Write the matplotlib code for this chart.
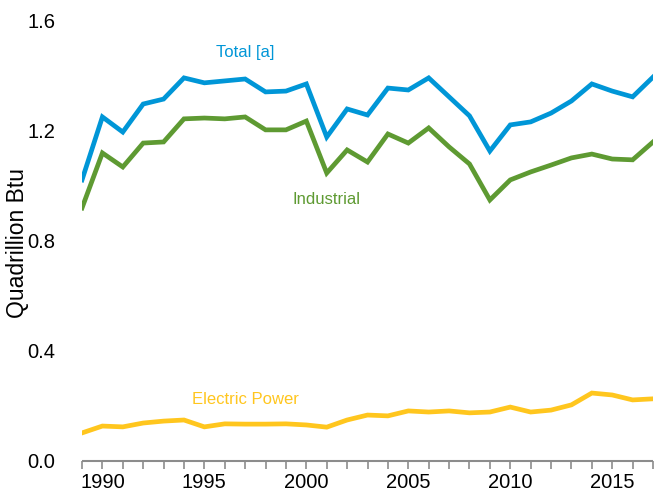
import numpy as np
import matplotlib.pyplot as plt

plt.rcParams['font.family'] = ['Liberation Sans', 'DejaVu Sans']

years = np.arange(1989, 2018)

total = [1.022, 1.251, 1.196, 1.298, 1.316, 1.393, 1.375, 1.382, 1.389, 1.342,
         1.345, 1.371, 1.178, 1.280, 1.258, 1.356, 1.349, 1.393, 1.324, 1.255,
         1.127, 1.222, 1.233, 1.265, 1.309, 1.371, 1.345, 1.324, 1.396]

industrial = [0.920, 1.120, 1.069, 1.156, 1.160, 1.244, 1.247, 1.244, 1.251, 1.204,
              1.204, 1.236, 1.047, 1.131, 1.087, 1.189, 1.156, 1.211, 1.142, 1.080,
              0.949, 1.022, 1.051, 1.076, 1.102, 1.116, 1.098, 1.095, 1.160]

electric = [0.102, 0.127, 0.124, 0.138, 0.145, 0.149, 0.124, 0.135, 0.134, 0.134,
            0.135, 0.131, 0.123, 0.149, 0.167, 0.164, 0.182, 0.178, 0.182, 0.175,
            0.178, 0.196, 0.178, 0.185, 0.204, 0.247, 0.240, 0.222, 0.226]

c_total = '#0096d7'
c_ind = '#5e9a32'
c_elec = '#ffc61e'

fig = plt.figure(figsize=(6.54, 4.99), dpi=100)
ax = fig.add_axes([0.1254, 0.0762, 0.8731, 0.8818])

ax.plot(years, total, color=c_total, lw=3.4, solid_joinstyle='miter')
ax.plot(years, industrial, color=c_ind, lw=3.4, solid_joinstyle='miter')
ax.plot(years, electric, color=c_elec, lw=3.4, solid_joinstyle='miter')

ax.text(1997.0, 1.484, 'Total [a]', color=c_total, fontsize=12, ha='center', va='center')
ax.text(2001.0, 0.949, 'Industrial', color=c_ind, fontsize=12, ha='center', va='center')
ax.text(1997.0, 0.225, 'Electric Power', color=c_elec, fontsize=12, ha='center', va='center')

ax.set_xlim(1989, 2017)
ax.set_ylim(0, 1.6)
ax.set_yticks([0, 0.4, 0.8, 1.2, 1.6])
ax.set_yticklabels(['0.0', '0.4', '0.8', '1.2', '1.6'])
ax.set_xticks([1990, 1995, 2000, 2005, 2010, 2015])
ax.set_xticks(years, minor=True)

for s in ['top', 'right', 'left']:
    ax.spines[s].set_visible(False)
ax.spines['bottom'].set_color('#8c8c8c')
ax.spines['bottom'].set_linewidth(1.5)
ax.spines['bottom'].set_capstyle('butt')

ax.tick_params(axis='y', length=0, labelsize=14.5, pad=19)
ax.tick_params(axis='x', which='both', length=6, width=1.2, color='#8c8c8c',
               labelsize=14.5, pad=3, direction='out')
ax.set_ylabel('Quadrillion Btu', fontsize=16.5)
ax.yaxis.set_label_coords(-0.092, 0.495)

fig.savefig('out.png', dpi=100)
